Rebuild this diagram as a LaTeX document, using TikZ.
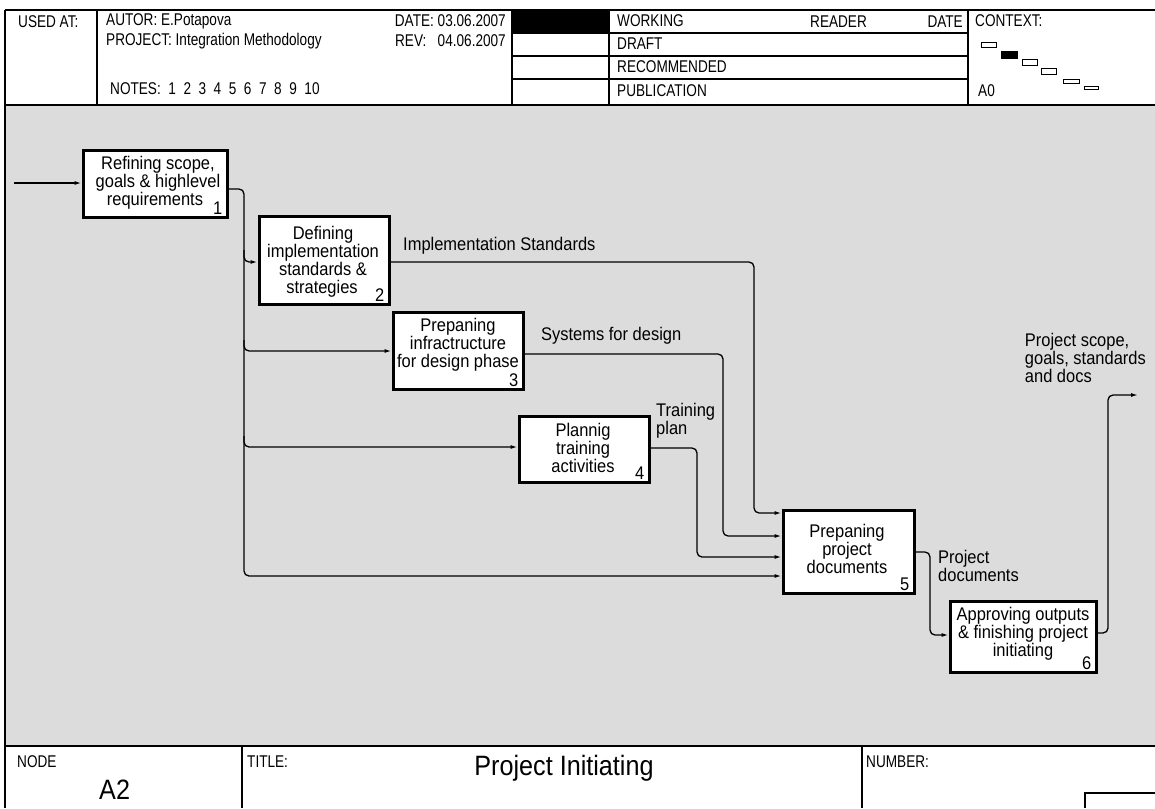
\documentclass[tikz,border=0pt]{standalone}
\usepackage{fontspec}
\setmainfont{Liberation Sans}[FakeStretch=0.9]
\newfontfamily\narrowfamily{Liberation Sans}[FakeStretch=0.8]
\usetikzlibrary{arrows.meta,calc}

\newcommand\dgmfont{\fontsize{18.3}{18}\selectfont}
\newcommand\hdrfont{\narrowfamily\fontsize{17}{18}\selectfont}
\newcommand\bigfont{\fontsize{28}{30}\selectfont}

\definecolor{canvas}{HTML}{DCDCDC}

\begin{document}
\begin{tikzpicture}[x=1pt,y=-1pt,
  frame/.style={line width=1.2pt},
  box/.style={draw, line width=3pt, fill=white, inner sep=0pt},
  btext/.style={align=center, inner sep=0pt, font=\dgmfont},
  num/.style={anchor=south east, inner sep=0pt, xshift=-6pt, yshift=4pt, font=\dgmfont},
  conn/.style={line width=1.3pt, rounded corners=5pt, -{Latex[length=7pt,width=4pt]}},
  lab/.style={anchor=west, align=left, inner sep=0pt, font=\dgmfont},
  hdr/.style={anchor=west, inner sep=0pt, font=\hdrfont},
  ctx/.style={draw, line width=0.8pt, fill=white}]
\useasboundingbox (0,0) rectangle (1155,808);

% drawing area
\fill[canvas] (5,105) rectangle (1155,746);

% ---------- header ----------
\draw[frame] (5,10) -- (1155,10);
\draw[frame] (5,105) -- (1155,105);
\draw[line width=2pt] (5,10) -- (5,808);
\draw[frame] (97,10) -- (97,105);
\draw[frame] (512,10) -- (512,105);
\draw[frame] (609,10) -- (609,105);
\draw[frame] (968,10) -- (968,105);
\fill[black] (512,10) rectangle (609,33);
\foreach \yy in {33,56,79} \draw[frame] (512,\yy) -- (968,\yy);

\node[hdr] (usedat) at (18,22) {USED AT:};
\node[hdr] (autor) at (106,21) {AUTOR: E.Potapova};
\node[hdr] (proj) at (106,41) {PROJECT: Integration Methodology};
\node[hdr] (notes) at (110,89) {NOTES:\ \ 1\ \ 2\ \ 3\ \ 4\ \ 5\ \ 6\ \ 7\ \ 8\ \ 9\ \ 10};
\node[hdr, anchor=east] (date) at (506,21) {DATE: 03.06.2007};
\node[hdr, anchor=east] (rev) at (506,41) {REV:\ \ \ 04.06.2007};
\node[hdr] (working) at (617,21) {WORKING};
\node[hdr] (reader) at (810,22) {READER};
\node[hdr, anchor=east] (rdate) at (963,22) {DATE};
\node[hdr] (draft) at (617,44) {DRAFT};
\node[hdr] (recom) at (617,67) {RECOMMENDED};
\node[hdr] (publ) at (617,91) {PUBLICATION};
\node[hdr] (context) at (975,21) {CONTEXT:};
\node[hdr] (ctxnode) at (978,91) {A0};

% context thumbnails
\draw[ctx] (981,42) rectangle (996,47);
\draw[ctx, fill=black] (1001,51) rectangle (1017,58);
\draw[ctx] (1022,59) rectangle (1037,65);
\draw[ctx] (1041,68) rectangle (1056,74);
\draw[ctx] (1063,79) rectangle (1079,83);
\draw[ctx] (1084,86) rectangle (1098,89);

% ---------- footer ----------
\draw[frame] (5,746) -- (1155,746);
\draw[frame] (242,746) -- (242,808);
\draw[frame] (862,746) -- (862,808);
\draw[frame] (1155,793) -- (1085,793) -- (1085,808);
\node[hdr] (nodelbl) at (17,762) {NODE};
\node[hdr, font=\bigfont] (nodeval) at (99,790) {A2};
\node[hdr] (titlelbl) at (247,762) {TITLE:};
\node[inner sep=0pt, font=\bigfont] (title) at (564,768) {Project Initiating};
\node[hdr] (numlbl) at (866,762) {NUMBER:};

% ---------- activity boxes ----------
\node[box, minimum width=144pt, minimum height=67pt] (b1) at (155,183.5) {};
\node[btext] (t1) at (158,182.5) {Refining scope,\\goals \& highlevel\\requirements\hspace*{6pt}};
\node[num] at (b1.south east) {1};

\node[box, minimum width=130pt, minimum height=88pt] (b2) at (324,260) {};
\node[btext] (t2) at (323,261.5) {Defining\\implementation\\standards \&\\strategies\hspace*{2pt}};
\node[num] at (b2.south east) {2};

\node[box, minimum width=130pt, minimum height=77pt] (b3) at (458,350.5) {};
\node[btext] (t3) at (458,344.5) {Prepaning\\infractructure\\for design phase};
\node[num] at (b3.south east) {3};

\node[box, minimum width=130pt, minimum height=66pt] (b4) at (584,449) {};
\node[btext] (t4) at (583,447.5) {Plannig\\training\\activities};
\node[num] at (b4.south east) {4};

\node[box, minimum width=131pt, minimum height=83pt] (b5) at (848.5,551.5) {};
\node[btext] (t5) at (847,548.5) {Prepaning\\project\\documents};
\node[num] at (b5.south east) {5};

\node[box, minimum width=146pt, minimum height=71pt] (b6) at (1023,636.5) {};
\node[btext] (t6) at (1023,634) {Approving outputs\\\& finishing project\\initiating};
\node[num] at (b6.south east) {6};

% ---------- connectors ----------
\coordinate (in) at (14,183);
\coordinate (tr) at (244,0);
\coordinate (out) at (1138,395);

\draw[conn] (in) -- (b1.west |- in);
\draw[conn] (b1.east |- 0,189) -| (tr |- 0,576) -- (b5.west |- 0,576);
\draw[conn] (tr |- 0,250) |- (b2.west |- 0,262);
\draw[conn] (tr |- 0,340) |- (b3.west |- 0,351);
\draw[conn] (tr |- 0,436) |- (b4.west |- 0,447);

\draw[conn] (b2.east |- 0,262) -| (754,513) -- (b5.west |- 0,513);
\draw[conn] (b3.east |- 0,354) -| (723,536) -- (b5.west |- 0,536);
\draw[conn] (b4.east |- 0,448) -| (697,557) -- (b5.west |- 0,557);
\draw[conn] (b5.east |- 0,552) -| (930,635) -- (b6.west |- 0,635);
\draw[conn] (b6.east |- 0,633) -| (1108,395) -- (out);

% ---------- arrow labels ----------
\node[lab] (l2) at (403,246) {Implementation Standards};
\node[lab] (l3) at (541,336) {Systems for design};
\node[lab] (l4) at (656,421) {Training\\plan};
\node[lab] (l5) at (938,566) {Project\\documents};
\node[lab, anchor=east] (l6) at (1146,358) {Project scope,\\goals, standards\\and docs};
\end{tikzpicture}
\end{document}
